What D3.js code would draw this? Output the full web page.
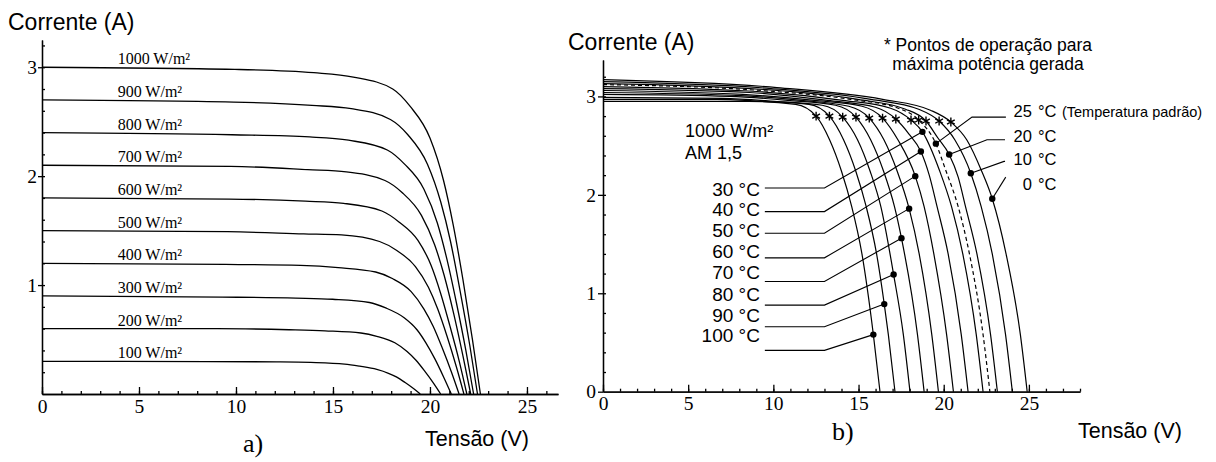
<!DOCTYPE html>
<html>
<head>
<meta charset="utf-8">
<style>
    body { margin: 0; background: #fff; }
    svg { display: block; }
    .serif { font-family: 'Liberation Serif', 'Times New Roman', serif; }
    .sans { font-family: 'Liberation Sans', Arial, sans-serif; }
</style>
</head>
<body>
<svg width="1216" height="462"></svg>

<script src="https://d3js.org/d3.v7.min.js"></script>
<script>
    // ---------- data: a) curves for each irradiance ----------
    let irradiance = [1000, 900, 800, 700, 600, 500, 400, 300, 200, 100];
    let irradianceCurves = [
        [[0,3.00],[9.94,2.98],[14.01,2.95],[16.05,2.91],[18.08,2.80],[18.98,2.64],[20.0,2.35],[20.7,1.96],[21.2,1.55],[21.7,1.05],[22.19,0.50],[22.6,0]],
        [[0,2.70],[9.88,2.68],[13.92,2.65],[15.94,2.62],[17.96,2.52],[18.86,2.38],[19.87,2.11],[20.56,1.76],[21.06,1.40],[21.55,0.95],[22.05,0.45],[22.45,0]],
        [[0,2.40],[9.79,2.38],[13.8,2.36],[15.8,2.33],[17.8,2.24],[18.69,2.11],[19.69,1.88],[20.38,1.57],[20.87,1.24],[21.36,0.84],[21.85,0.40],[22.25,0]],
        [[0,2.10],[9.72,2.09],[13.7,2.06],[15.69,2.04],[17.68,1.96],[18.56,1.85],[19.56,1.64],[20.24,1.37],[20.73,1.09],[21.22,0.74],[21.7,0.35],[22.1,0]],
        [[0,1.80],[9.64,1.79],[13.58,1.77],[15.55,1.75],[17.52,1.68],[18.4,1.58],[19.38,1.41],[20.06,1.18],[20.54,0.93],[21.02,0.63],[21.51,0.30],[21.9,0]],
        [[0,1.50],[9.57,1.49],[13.49,1.47],[15.44,1.46],[17.4,1.40],[18.27,1.32],[19.25,1.17],[19.92,0.98],[20.4,0.78],[20.88,0.53],[21.36,0.25],[21.75,0]],
        [[0,1.20],[9.46,1.19],[13.33,1.18],[15.27,1.16],[17.2,1.12],[18.06,1.06],[19.03,0.94],[19.69,0.78],[20.17,0.62],[20.64,0.42],[21.11,0.20],[21.5,0]],
        [[0,0.90],[9.28,0.89],[13.08,0.88],[14.98,0.87],[16.88,0.84],[17.72,0.79],[18.67,0.70],[19.33,0.59],[19.79,0.47],[20.26,0.32],[20.72,0.15],[21.1,0]],
        [[0,0.60],[9.04,0.60],[12.74,0.59],[14.59,0.58],[16.44,0.56],[17.26,0.53],[18.19,0.47],[18.82,0.39],[19.28,0.31],[19.73,0.21],[20.18,0.10],[20.55,0]],
        [[0,0.30],[8.58,0.298],[12.09,0.295],[13.85,0.29],[15.6,0.275],[16.38,0.255],[17.26,0.225],[17.86,0.19],[18.29,0.155],[18.72,0.105],[19.15,0.05],[19.5,0]]
    ];

    // ---------- data: b) curves for each temperature ----------
    let temps = [0, 10, 20, 25, 30, 40, 50, 60, 70, 80, 90, 100];
    let tempCurves = [
        [[0,3.17],[10.21,3.09],[16.42,2.97],[19.22,2.86],[21.35,2.56],[22.23,2.24],[23.66,1.40],[24.5,0.58],[24.9,0]],
        [[0,3.15],[9.87,3.08],[15.73,2.97],[18.53,2.87],[20.65,2.56],[22.2,1.88],[22.85,1.40],[23.63,0.58],[24.03,0]],
        [[0,3.13],[9.48,3.07],[14.96,2.97],[17.76,2.87],[19.65,2.58],[20.85,2.18],[21.28,1.88],[21.95,1.40],[22.75,0.58],[23.15,0]],
        [[0,3.12],[9.27,3.06],[14.53,2.97],[17.33,2.88],[20.14,2.24],[20.85,1.88],[21.51,1.40],[22.31,0.58],[22.71,0]],
        [[0,3.10],[9.04,3.05],[14.08,2.96],[16.88,2.88],[19.77,2.24],[20.46,1.88],[21.12,1.40],[21.91,0.58],[22.31,0]],
        [[0,3.08],[8.6,3.04],[13.19,2.96],[15.99,2.89],[17.95,2.62],[19.15,2.20],[19.61,1.88],[20.26,1.40],[21.03,0.58],[21.43,0]],
        [[0,3.06],[8.2,3.02],[12.41,2.96],[15.21,2.90],[17.31,2.56],[18.85,1.88],[19.42,1.40],[20.17,0.58],[20.57,0]],
        [[0,3.04],[7.82,3.01],[11.63,2.96],[14.43,2.90],[16.49,2.56],[17.27,2.24],[18.56,1.40],[19.30,0.58],[19.69,0]],
        [[0,3.02],[7.43,3.00],[10.85,2.96],[13.65,2.91],[15.71,2.56],[16.47,2.24],[17.11,1.88],[18.46,0.58],[18.85,0]],
        [[0,2.99],[7.04,2.98],[10.07,2.95],[12.87,2.91],[14.94,2.56],[15.68,2.24],[16.31,1.88],[17.63,0.58],[18.02,0]],
        [[0,2.97],[6.65,2.97],[9.29,2.95],[12.09,2.92],[14.12,2.56],[14.84,2.24],[15.45,1.88],[16.06,1.40],[16.75,0.58],[17.14,0]],
        [[0,2.95],[6.26,2.95],[8.51,2.95],[11.31,2.92],[13.3,2.56],[14.0,2.24],[14.6,1.88],[15.2,1.40],[16.26,0]]
    ];
    // max power points (*) and marked points (dots), same order as temps
    let mppPoints = [[20.42,2.74],[19.73,2.75],[18.96,2.75],[18.53,2.76],[18.08,2.76],[17.19,2.77],[16.41,2.78],[15.63,2.78],[14.85,2.79],[14.07,2.79],[13.29,2.80],[12.51,2.80]];
    let dotPoints = [[22.85,1.96],[21.59,2.22],[20.32,2.41],[19.54,2.52],[18.75,2.64],[18.66,2.44],[18.33,2.19],[17.97,1.86],[17.52,1.56],[17.06,1.19],[16.51,0.89],[15.87,0.58]];

    // labels on the left of b)
    let leftLabelTemps = [30, 40, 50, 60, 70, 80, 90, 100];
    let leftLabelI = [1.99, 1.79, 1.57, 1.36, 1.14, 0.92, 0.71, 0.50];
    let leftLeaderI = [2.07, 1.83, 1.61, 1.36, 1.12, 0.88, 0.66, 0.42];
    // labels on the right of b)
    let rightLabelTemps = [25, 20, 10, 0];
    let rightLabelI = [2.79, 2.54, 2.30, 2.05];
    let rightLeaderCorner = [[21.66,2.79],[22.54,2.56],[23.54,2.34],[23.64,2.18]];
    let rightLeaderEndV = [23.65, 23.6, 23.6, 23.64];

    let xTickLabels = [0, 5, 10, 15, 20, 25];
    let yTickLabelsA = [1, 2, 3];
    let yTickLabelsB = [0, 1, 2, 3];

    let svg = d3.select("svg");
    let fmt = d3.format("d");

    function styleAxis(g, size) {
        g.selectAll("path, line").attr("stroke", "#000").attr("stroke-width", 1.3);
        g.selectAll("text").attr("class", "serif").attr("font-size", size).attr("fill", "#000");
        g.attr("font-family", null).attr("font-size", null);
    }

    // ================= a) =================
    let xA = d3.scaleLinear().domain([0, 26.6]).range([42, 558]);
    let yA = d3.scaleLinear().domain([0, 3.25]).range([394, 40]);

    svg.append("g").attr("transform", `translate(0,${yA(0)})`)
        .call(d3.axisBottom(xA).tickValues(d3.range(0, 27)).tickSize(-3).tickSizeOuter(0).tickFormat(""))
        .call(styleAxis, 19.5);
    svg.append("g").attr("transform", `translate(0,${yA(0)})`)
        .call(d3.axisBottom(xA).tickValues(xTickLabels).tickSize(-7).tickSizeOuter(0).tickPadding(5).tickFormat(fmt))
        .call(styleAxis, 19.5);
    svg.append("g").attr("transform", `translate(${xA(0)},0)`)
        .call(d3.axisLeft(yA).tickValues(d3.range(0.2, 3.21, 0.2)).tickSize(-3).tickSizeOuter(0).tickFormat(""))
        .call(styleAxis, 19.5);
    svg.append("g").attr("transform", `translate(${xA(0)},0)`)
        .call(d3.axisLeft(yA).tickValues(yTickLabelsA).tickSize(4).tickSizeOuter(0).tickPadding(1).tickFormat(fmt))
        .call(styleAxis, 19.5);

    let lineA = d3.line().x(d => xA(d[0])).y(d => yA(d[1])).curve(d3.curveMonotoneX);

    svg.append("g").selectAll("path")
        .data(irradianceCurves)
        .join("path")
        .attr("d", lineA)
        .attr("fill", "none")
        .attr("stroke", "#000")
        .attr("stroke-width", 1.3);

    svg.append("g").selectAll("text")
        .data(irradiance)
        .join("text")
        .attr("class", "serif")
        .attr("x", xA(3.9))
        .attr("y", (d, i) => yA(irradianceCurves[i][0][1]) - 3)
        .attr("font-size", 16)
        .text(d => d + " W/m²");

    svg.append("text").attr("class", "sans").attr("x", 8).attr("y", 30)
        .attr("font-size", 23).text("Corrente (A)");
    svg.append("text").attr("class", "sans").attr("x", 425).attr("y", 446)
        .attr("font-size", 21.5).text("Tensão (V)");
    svg.append("text").attr("class", "serif").attr("x", 243).attr("y", 452)
        .attr("font-size", 26).text("a)");

    // ================= b) =================
    let xB = d3.scaleLinear().domain([0, 28]).range([603, 1080]);
    let yB = d3.scaleLinear().domain([0, 3.37]).range([391.7, 60]);

    svg.append("g").attr("transform", `translate(0,${yB(0)})`)
        .call(d3.axisBottom(xB).tickValues(d3.range(0, 29)).tickSize(-3).tickSizeOuter(0).tickFormat(""))
        .call(styleAxis, 19.5);
    svg.append("g").attr("transform", `translate(0,${yB(0)})`)
        .call(d3.axisBottom(xB).tickValues(xTickLabels).tickSize(-7).tickSizeOuter(0).tickPadding(4).tickFormat(fmt))
        .call(styleAxis, 19.5);
    svg.append("g").attr("transform", `translate(${xB(0)},0)`)
        .call(d3.axisLeft(yB).tickValues(d3.range(0.2, 3.21, 0.2)).tickSize(-3).tickSizeOuter(0).tickFormat(""))
        .call(styleAxis, 19.5);
    svg.append("g").attr("transform", `translate(${xB(0)},0)`)
        .call(d3.axisLeft(yB).tickValues(yTickLabelsB).tickSize(5).tickSizeOuter(0).tickPadding(2).tickFormat(fmt))
        .call(styleAxis, 19.5);

    let lineB = d3.line().x(d => xB(d[0])).y(d => yB(d[1])).curve(d3.curveMonotoneX);
    let straight = d3.line().x(d => xB(d[0])).y(d => yB(d[1]));

    let curvesB = tempCurves.map((c, i) => c.concat([mppPoints[i], dotPoints[i]]).sort((a, b) => a[0] - b[0]));

    svg.append("g").selectAll("path")
        .data(curvesB)
        .join("path")
        .attr("d", lineB)
        .attr("fill", "none")
        .attr("stroke", "#000")
        .attr("stroke-width", 1.2)
        .attr("stroke-dasharray", (d, i) => temps[i] === 25 ? "4,3" : null);

    // leader lines, left labels
    svg.append("g").selectAll("path")
        .data(leftLabelTemps)
        .join("path")
        .attr("d", (t, j) => straight([[9.5, leftLeaderI[j]], [13.0, leftLeaderI[j]], dotPoints[temps.indexOf(t)]]))
        .attr("fill", "none")
        .attr("stroke", "#000")
        .attr("stroke-width", 1.1);

    svg.append("g").selectAll("text")
        .data(leftLabelTemps)
        .join("text")
        .attr("class", "sans")
        .attr("x", xB(9.21))
        .attr("y", (t, j) => yB(leftLabelI[j]))
        .attr("text-anchor", "end")
        .attr("font-size", 19)
        .text(t => t + " °C");

    // leader lines, right labels
    svg.append("g").selectAll("path")
        .data(rightLabelTemps)
        .join("path")
        .attr("d", (t, j) => straight([dotPoints[temps.indexOf(t)], rightLeaderCorner[j], [rightLeaderEndV[j], rightLeaderCorner[j][1]]]))
        .attr("fill", "none")
        .attr("stroke", "#000")
        .attr("stroke-width", 1.1);

    let rl = svg.append("g").selectAll("g")
        .data(rightLabelTemps)
        .join("g");
    rl.append("text")
        .attr("class", "sans")
        .attr("x", xB(25.18))
        .attr("y", (t, j) => yB(rightLabelI[j]))
        .attr("text-anchor", "end")
        .attr("font-size", 16.5)
        .text(t => t);
    rl.append("text")
        .attr("class", "sans")
        .attr("x", xB(25.53))
        .attr("y", (t, j) => yB(rightLabelI[j]))
        .attr("font-size", 16.5)
        .text("°C");
    svg.append("text").attr("class", "sans")
        .attr("x", xB(26.94)).attr("y", yB(rightLabelI[0]))
        .attr("font-size", 14.5).text("(Temperatura padrão)");

    // dots and asterisks
    svg.append("g").selectAll("circle")
        .data(dotPoints)
        .join("circle")
        .attr("cx", d => xB(d[0]))
        .attr("cy", d => yB(d[1]))
        .attr("r", 3.2)
        .attr("fill", "#000");

    svg.append("g").selectAll("path")
        .data(mppPoints)
        .join("path")
        .attr("transform", d => `translate(${xB(d[0])},${yB(d[1])})`)
        .attr("d", d3.symbol(d3.symbolAsterisk, 55))
        .attr("fill", "none")
        .attr("stroke", "#000")
        .attr("stroke-width", 1.4);

    svg.append("text").attr("class", "sans").attr("x", xB(4.82)).attr("y", 136.5)
        .attr("font-size", 18).text("1000 W/m²");
    svg.append("text").attr("class", "sans").attr("x", xB(4.82)).attr("y", 159)
        .attr("font-size", 18).text("AM 1,5");

    svg.append("text").attr("class", "sans").attr("x", 988).attr("y", 51)
        .attr("text-anchor", "middle").attr("font-size", 17.5).text("* Pontos de operação para");
    svg.append("text").attr("class", "sans").attr("x", 988).attr("y", 70)
        .attr("text-anchor", "middle").attr("font-size", 17.5).text("máxima potência gerada");

    svg.append("text").attr("class", "sans").attr("x", 568).attr("y", 50)
        .attr("font-size", 23).text("Corrente (A)");
    svg.append("text").attr("class", "sans").attr("x", 1078).attr("y", 438)
        .attr("font-size", 21.5).text("Tensão (V)");
    svg.append("text").attr("class", "serif").attr("x", 832).attr("y", 440)
        .attr("font-size", 26).text("b)");
</script>
</body>
</html>
